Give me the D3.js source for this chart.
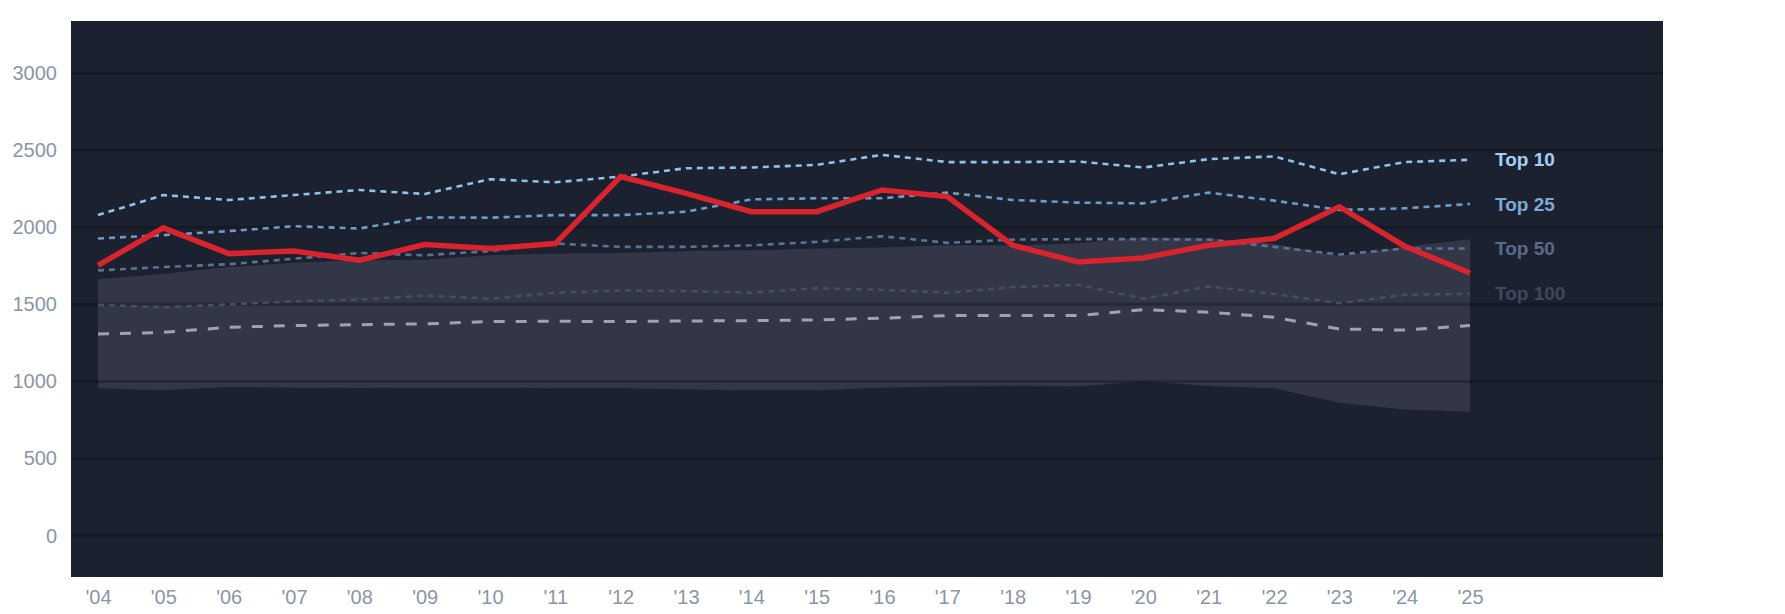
<!DOCTYPE html>
<html>
<head>
<meta charset="utf-8">
<script src="https://cdn.jsdelivr.net/npm/d3@7/dist/d3.min.js"></script>
<style>
  html, body { margin: 0; padding: 0; background: #ffffff; }
  svg { display: block; font-family: "Liberation Sans", Arial, Helvetica, sans-serif; }
</style>
</head>
<body>
<svg id="chart" width="1785" height="614"></svg>
<script>
// ---- data ----
const years = [2004,2005,2006,2007,2008,2009,2010,2011,2012,2013,2014,2015,2016,2017,2018,2019,2020,2021,2022,2023,2024,2025];
const yTicks = [0, 500, 1000, 1500, 2000, 2500, 3000];
const top10  = [2076,2206,2174,2206,2239,2213,2309,2289,2326,2380,2385,2402,2467,2420,2420,2424,2385,2439,2457,2341,2420,2435];
const top25  = [1924,1946,1972,2004,1989,2061,2059,2076,2076,2098,2178,2185,2185,2222,2174,2157,2152,2222,2170,2109,2120,2148];
const top50  = [1717,1739,1757,1793,1830,1815,1843,1891,1870,1870,1880,1902,1939,1896,1917,1920,1920,1917,1870,1820,1859,1859];
const top100 = [1493,1478,1496,1517,1528,1554,1533,1572,1587,1583,1572,1602,1591,1572,1609,1624,1533,1613,1565,1504,1559,1565];
const median = [1304,1315,1348,1359,1365,1370,1385,1387,1385,1389,1391,1396,1407,1424,1424,1424,1463,1446,1413,1337,1330,1359];
const bandHigh = [1659,1696,1739,1767,1783,1787,1815,1826,1830,1843,1848,1859,1865,1880,1880,1893,1932,1925,1890,1810,1871,1919];
const bandLow  = [952,939,961,956,954,956,956,952,952,946,939,939,956,963,967,963,996,967,952,859,815,800];
const team   = [1750,1993,1826,1843,1783,1885,1859,1891,2326,2217,2098,2098,2239,2196,1880,1772,1798,1880,1924,2130,1874,1700];
const tierNames = ["Top 10", "Top 25", "Top 50", "Top 100"];

// ---- layout ----
const plot = { left: 71, right: 1663, top: 21, bottom: 577 };
const svg = d3.select("#chart");

const x = d3.scaleLinear().domain([2004, 2025]).range([98, 1470]);
const y = d3.scaleLinear().domain([-272.5, 3335.5]).range([plot.bottom, plot.top]);

// background
svg.append("rect")
  .attr("x", plot.left).attr("y", plot.top)
  .attr("width", plot.right - plot.left).attr("height", plot.bottom - plot.top)
  .attr("fill", "#1c2130");

// band
const bandData = years.map((yr, i) => ({ yr, lo: bandLow[i], hi: bandHigh[i] }));
svg.append("path")
  .datum(bandData)
  .attr("fill", "#323646")
  .attr("d", d3.area().x(d => x(d.yr)).y0(d => y(d.lo)).y1(d => y(d.hi)));

const line = d3.line().x((d, i) => x(years[i])).y(d => y(d));

const tiers = [
  { name: tierNames[3], vals: top100, stroke: "#434f66", label: "#3f485c" },
  { name: tierNames[2], vals: top50,  stroke: "#5a7393", label: "#5a6b87" },
  { name: tierNames[1], vals: top25,  stroke: "#6d9cc8", label: "#7aaad6" },
  { name: tierNames[0], vals: top10,  stroke: "#8fc3ea", label: "#a3d1f4" }
];

// tier labels (under gridlines like the reference)
tiers.forEach(t => {
  svg.append("text")
    .attr("x", x(2025) + 25)
    .attr("y", y(t.vals[t.vals.length - 1]))
    .attr("dy", "0.35em")
    .attr("fill", t.label)
    .attr("font-size", 19)
    .attr("font-weight", "bold")
    .text(t.name);
});

// gridlines
const yAxisGrid = d3.axisLeft(y).tickValues(yTicks).tickSize(-(plot.right - plot.left)).tickFormat("");
const grid = svg.append("g").attr("transform", `translate(${plot.left},0)`).call(yAxisGrid);
grid.select(".domain").remove();
grid.selectAll("line").attr("stroke", "rgba(0,0,0,0.24)").attr("stroke-width", 3);

// y tick labels
const yAxis = d3.axisLeft(y).tickValues(yTicks).tickSize(0).tickPadding(0).tickFormat(d3.format("d"));
const ya = svg.append("g").attr("transform", `translate(57,0)`).call(yAxis);
ya.select(".domain").remove();
ya.selectAll("text").attr("fill", "#8b95a7").attr("font-size", 20)
  .attr("font-family", "'Liberation Sans', Arial, sans-serif").attr("dy", "0.35em");

// x tick labels
const xAxis = d3.axisBottom(x).tickValues(years).tickSize(0).tickPadding(0)
  .tickFormat(d => "'" + String(d).slice(2));
const xa = svg.append("g").attr("transform", `translate(0,589)`).call(xAxis);
xa.select(".domain").remove();
xa.selectAll("text").attr("fill", "#8b95a7").attr("font-size", 20)
  .attr("font-family", "'Liberation Sans', Arial, sans-serif").attr("dy", "0.75em");

// tier lines
tiers.forEach(t => {
  svg.append("path").datum(t.vals)
    .attr("fill", "none").attr("stroke", t.stroke).attr("stroke-width", 2.6)
    .attr("stroke-dasharray", "6,5")
    .attr("d", line);
});

// median dashed
svg.append("path").datum(median)
  .attr("fill", "none").attr("stroke", "#9ea4ae").attr("stroke-width", 3)
  .attr("stroke-dasharray", "11,11")
  .attr("d", line);

// team line
svg.append("path").datum(team)
  .attr("fill", "none").attr("stroke", "#d9232d").attr("stroke-width", 5.5)
  .attr("stroke-linejoin", "miter")
  .attr("d", line);
</script>
</body>
</html>
